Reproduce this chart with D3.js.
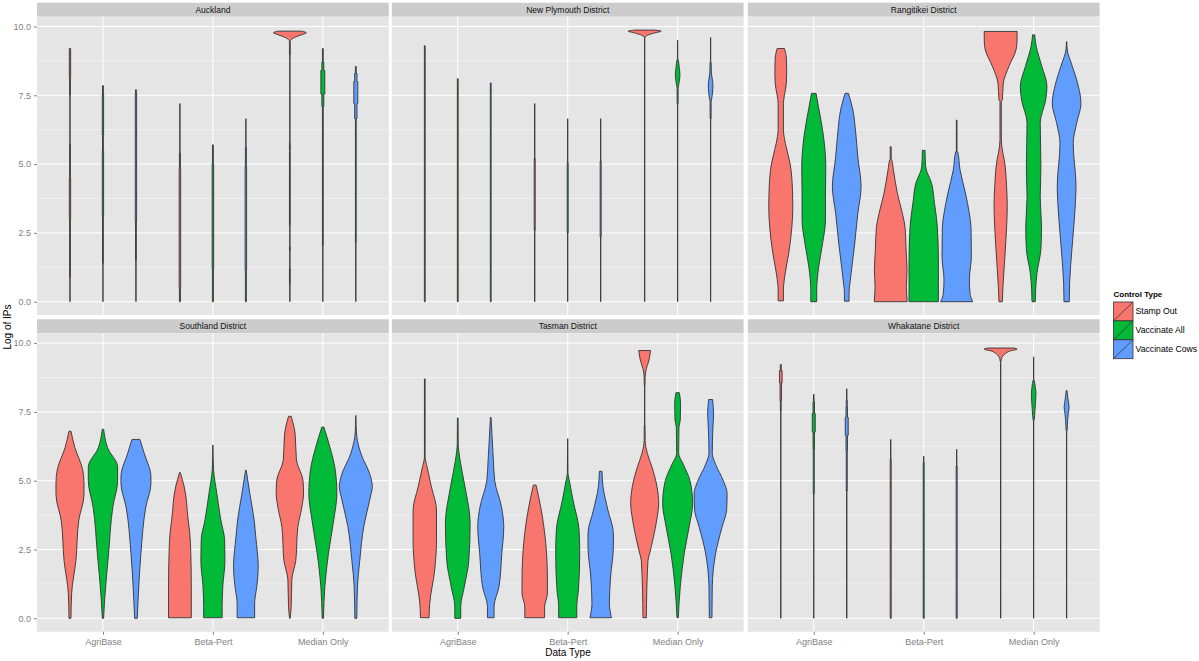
<!DOCTYPE html>
<html>
<head>
<meta charset="utf-8">
<script src="https://cdn.jsdelivr.net/npm/d3@7"></script>
<style>
  html, body { margin: 0; padding: 0; background: #fff; }
  svg { display: block; }
  text { font-family: "Liberation Sans", Arial, sans-serif; }
</style>
</head>
<body>
<svg id="chart" width="1199" height="661"></svg>
<script>
const dataTypes = ['AgriBase', 'Beta-Pert', 'Median Only'];
const controlTypes = ['Stamp Out', 'Vaccinate All', 'Vaccinate Cows'];
const yTicks = [0, 2.5, 5, 7.5, 10];
const yMinorTicks = [1.25, 3.75, 6.25, 8.75];

// each violin: [log of IPs, relative density], top to bottom
// order inside a district: data type, then control type
const auckland = [
  [[9.2,.04],[8.15,.04],[8.15,.025],[7.5,.025],[7.5,0],[5.7,0],[5.7,.025],[4.5,.025],[4.5,.04],[3,.04],[3,.025],[.9,.025],[.9,0],[0,0]],
  [[7.85,.025],[7.55,.025],[7.55,.04],[6.05,.04],[6.05,.025],[5.5,.025],[5.5,.04],[3.1,.04],[3.1,.025],[1.4,.025],[1.4,0],[0,0]],
  [[7.7,.025],[7.55,.025],[7.55,.04],[2.9,.04],[2.9,.025],[1.5,.025],[1.5,0],[0,0]],
  [[7.2,0],[5.4,0],[5.4,.03],[4.85,.03],[4.85,.045],[.5,.045],[.5,.03],[0,.03]],
  [[5.7,.025],[5,.025],[5,.045],[1.2,.045],[1.2,.03],[0,.03]],
  [[6.65,0],[5.6,0],[5.6,.03],[4.9,.03],[4.9,.045],[1.15,.045],[1.15,.03],[0,.03]],
  [[9.83,.72],[9.77,1],[9.72,.8],[9.6,.28],[9.5,.05],[9.45,.025],[9,.025],[9,0],[5.75,0],[5.75,.025],[5.5,.025],[5.5,0],[5.45,0],[5.45,.025],[4.8,.025],[4.8,0],[4.75,0],[4.75,.025],[2.8,.025],[2.8,0],[2,0],[2,.025],[1.85,.025],[1.85,0],[1.2,0],[1.2,.025],[.65,.025],[.65,0],[0,0]],
  [[9.2,.025],[8.7,.025],[8.7,.06],[8.4,.06],[8.4,.12],[7.55,.12],[7.55,.06],[7.1,.06],[7.1,.025],[2.05,.025],[2.05,0],[0,0]],
  [[8.55,.025],[8.3,.025],[8.3,.07],[8,.07],[8,.12],[7.2,.12],[7.2,.07],[6.65,.07],[6.65,.025],[2.15,.025],[2.15,0],[0,0]]
];
const newPlymouth = [
  [[9.3,.025],[0,.025]],
  [[8.1,.025],[0,.025]],
  [[7.95,.025],[0,.025]],
  [[7.2,0],[5.2,0],[5.2,.03],[2.6,.03],[2.6,0],[0,0]],
  [[6.65,0],[5.05,0],[5.05,.03],[2.5,.03],[2.5,0],[0,0]],
  [[6.65,0],[5.1,0],[5.1,.03],[2.35,.03],[2.35,0],[0,0]],
  [[9.87,.6],[9.83,1],[9.78,.7],[9.7,.25],[9.62,.03],[9.55,0],[0,0]],
  [[9.5,0],[8.85,0],[8.8,.03],[8.5,.1],[8.25,.14],[8,.1],[7.8,.04],[7.75,.03],[7.2,.03],[7.2,0],[0,0]],
  [[9.6,0],[8.75,0],[8.7,.03],[8.3,.05],[8.1,.1],[7.9,.14],[7.5,.1],[7.3,.04],[7.25,.03],[6.65,.03],[6.65,0],[0,0]]
];
const rangitikei = [
  [[9.2,.22],[8.85,.34],[8.36,.36],[7.94,.34],[7.5,.22],[7.2,.16],[6.25,.16],[5.75,.28],[5,.57],[4.05,.71],[3.45,.73],[2.7,.67],[1.75,.48],[1,.26],[.42,.16],[.03,.16]],
  [[7.57,.14],[7.1,.28],[6.1,.57],[4.9,.73],[3.95,.71],[2.97,.71],[2.1,.53],[1.27,.3],[.42,.18],[0,.18]],
  [[7.57,.1],[7,.36],[6.1,.55],[5.27,.67],[4.18,.87],[3.2,.67],[2.1,.48],[.9,.24],[.3,.14],[.02,.14]],
  [[5.63,.03],[5.15,.03],[5.15,.06],[4.8,.16],[3.95,.4],[3.2,.71],[2.7,.87],[1.9,.93],[1.15,.99],[.55,.95],[0,1]],
  [[5.5,.08],[4.9,.12],[4.3,.48],[3.6,.65],[2.7,.83],[1.5,.89],[0,.89]],
  [[6.6,.02],[5.45,.02],[5.45,.06],[4.8,.2],[3.95,.53],[3.2,.77],[2.7,.87],[1.65,.89],[.8,.77],[.3,.81],[0,.97]],
  [[9.82,1],[9.4,.99],[9.15,.93],[8.55,.5],[7.94,.16],[7.33,.1],[7.27,.04],[5.88,.04],[4.9,.28],[4.18,.36],[3.45,.4],[2.7,.36],[1.5,.24],[.55,.14],[0,.1]],
  [[9.7,.06],[9.27,.16],[8.55,.5],[7.82,.81],[7.33,.73],[6.5,.4],[4.9,.44],[3.8,.4],[2.7,.48],[1.9,.44],[1.03,.2],[.42,.12],[0,.1]],
  [[9.45,.01],[9.15,.04],[8.67,.28],[8.06,.61],[7.2,.87],[6.5,.61],[5.75,.4],[4.18,.57],[3.1,.48],[1.9,.32],[.67,.18],[0,.16]]
];
const southland = [
  [[6.8,.06],[6.2,.3],[5.4,.77],[4.9,.85],[4.5,.85],[3.55,.53],[2.1,.36],[.9,.1],[0,.06]],
  [[6.87,.04],[6.2,.28],[5.5,.89],[5,.89],[4.05,.6],[2.35,.34],[.66,.1],[0,.04]],
  [[6.5,.24],[6,.5],[5.14,.91],[4.9,.91],[4.05,.6],[2.35,.3],[.8,.14],[0,.08]],
  [[5.3,.02],[4.78,.26],[3.57,.5],[3.08,.6],[2.35,.66],[1.15,.69],[.02,.69]],
  [[6.3,0],[5.75,.02],[5.4,.04],[4.53,.24],[3.57,.48],[2.85,.71],[2.1,.73],[1.15,.6],[.4,.56],[.02,.56]],
  [[5.38,.02],[4.53,.24],[3.57,.5],[2.96,.6],[1.87,.75],[1.15,.66],[.55,.53],[.02,.53]],
  [[7.34,.08],[6.7,.32],[5.75,.4],[5,.8],[4.53,.83],[4.05,.73],[3.3,.48],[2.1,.36],[1.4,.12],[.42,.08],[0,.02]],
  [[6.95,.06],[6.2,.44],[5.4,.75],[4.53,.85],[3.57,.66],[2.35,.34],[1.15,.12],[0,.04]],
  [[7.37,0],[7,.02],[6.6,.06],[6,.3],[5.14,.9],[4.78,1],[4.4,.88],[3.33,.48],[2.1,.24],[1.15,.1],[0,.06]]
];
const tasman = [
  [[8.7,.02],[5.86,.02],[5.5,.14],[4.78,.4],[3.93,.71],[2.84,.71],[1.75,.6],[.54,.3],[.02,.26]],
  [[7.28,.02],[6.35,.03],[5.74,.14],[4.78,.44],[3.45,.75],[2.1,.67],[1.15,.4],[.42,.18],[0,.18]],
  [[7.3,.02],[6.6,.08],[5.74,.16],[5,.24],[4.05,.65],[3.33,.79],[2.35,.67],[1.15,.5],[.42,.2],[.02,.2]],
  [[4.84,.08],[4.05,.36],[2.72,.67],[1.39,.77],[.9,.77],[.42,.6],[.02,.6]],
  [[6.53,0],[5.26,.02],[5,.1],[4.3,.32],[3.2,.69],[2.35,.73],[1.03,.65],[.42,.55],[.02,.55]],
  [[5.34,.08],[4.78,.14],[3.93,.44],[3.08,.77],[2.6,.77],[1.5,.6],[.54,.53],[.02,.65]],
  [[9.73,.36],[9.43,.28],[8.95,.06],[8.76,.03],[8.46,.02],[8.46,0],[7,0],[7,.025],[6.47,.03],[6,.16],[5.5,.44],[4.78,.75],[4.17,.85],[3.57,.73],[2.35,.3],[2.1,.2],[.02,.1]],
  [[8.2,.1],[7.8,.18],[7.2,.16],[6.95,.08],[6,.06],[5.6,.34],[5,.75],[4.17,.91],[3.33,.7],[2.35,.4],[1.15,.16],[.02,.04]],
  [[7.95,.12],[7.43,.18],[6.95,.14],[6,.1],[5.6,.3],[5,.77],[4.53,1],[3.93,.97],[3.33,.7],[2.35,.3],[1.15,.1],[.02,.08]]
];
const whakatane = [
  [[9.22,.03],[9,.03],[9,.08],[8.56,.08],[8.56,.045],[7.9,.045],[7.9,.025],[7.55,.025],[7.55,0],[0,0]],
  [[8.14,.01],[7.86,.025],[7.86,.045],[7.44,.045],[7.44,.09],[6.77,.09],[6.77,.045],[6.13,.045],[6.13,.03],[4.53,.03],[4.53,0],[0,0]],
  [[8.34,0],[7.92,0],[7.92,.03],[7.68,.03],[7.68,.045],[7.3,.045],[7.3,.09],[6.65,.09],[6.65,.045],[6.07,.045],[6.07,.03],[4.63,.03],[4.63,0],[0,0]],
  [[6.5,0],[5.77,0],[5.77,.03],[0,.03]],
  [[5.9,0],[5.66,0],[5.66,.03],[0,.03]],
  [[6.14,0],[5.53,0],[5.53,.03],[0,.03]],
  [[9.82,.8],[9.78,1],[9.72,.6],[9.6,.25],[9.45,.06],[9.35,.03],[9.3,0],[0,0]],
  [[9.5,0],[8.7,0],[8.65,.03],[8.4,.1],[8.16,.14],[7.9,.12],[7.55,.08],[7.2,.03],[7.15,0],[0,0]],
  [[8.28,.02],[7.9,.1],[7.68,.15],[7.44,.1],[7.2,.06],[6.83,.03],[6.75,0],[0,0]]
];

const districts = ['Auckland', 'New Plymouth District', 'Rangitikei District', 'Southland District', 'Tasman District', 'Whakatane District'];
const districtViolins = [auckland, newPlymouth, rangitikei, southland, tasman, whakatane];

const colors = d3.scaleOrdinal().domain(controlTypes).range(['#F8766D', '#00BA38', '#619CFF']);

const svg = d3.select('#chart');

// facet layout
const panelLefts = [37, 391.8, 747.8];
const panelWidth = 351.8;
const panelTops = [16.7, 333.3];
const panelHeight = 298.4;
const stripHeight = 14;

const x = d3.scalePoint().domain(dataTypes).range([0, panelWidth]).padding(0.6);
const dodge = d3.scaleBand().domain(controlTypes).range([-x.step() * 0.45, x.step() * 0.45]);
const y = d3.scaleLinear().domain([0, 10]).range([panelHeight - 13.4, 9.8]);
const density = d3.scaleLinear().domain([0, 1]).range([0, dodge.bandwidth() / 2]);

const violinArea = d3.area()
  .curve(d3.curveMonotoneY)
  .y(d => y(d[0]))
  .x0(d => -density(d[1]))
  .x1(d => density(d[1]));

districts.forEach((name, i) => {
  const col = i % 3;
  const row = Math.floor(i / 3);
  const g = svg.append('g')
    .attr('transform', `translate(${panelLefts[col]},${panelTops[row]})`);

  // strip
  g.append('rect')
    .attr('y', -stripHeight)
    .attr('width', panelWidth)
    .attr('height', stripHeight)
    .attr('fill', '#CCCCCC');
  g.append('text')
    .attr('x', panelWidth / 2)
    .attr('y', -4)
    .attr('text-anchor', 'middle')
    .attr('font-size', 8.5)
    .attr('fill', '#111')
    .text(name);

  // panel background and grid
  g.append('rect')
    .attr('width', panelWidth)
    .attr('height', panelHeight)
    .attr('fill', '#E5E5E5');
  g.selectAll('line.minor')
    .data(yMinorTicks)
    .enter().append('line')
    .attr('class', 'minor')
    .attr('x2', panelWidth)
    .attr('y1', d => y(d))
    .attr('y2', d => y(d))
    .attr('stroke', '#F2F2F2')
    .attr('stroke-width', 0.8);
  g.selectAll('line.major')
    .data(yTicks)
    .enter().append('line')
    .attr('class', 'major')
    .attr('x2', panelWidth)
    .attr('y1', d => y(d))
    .attr('y2', d => y(d))
    .attr('stroke', '#fff')
    .attr('stroke-width', 1);
  g.selectAll('line.vert')
    .data(dataTypes)
    .enter().append('line')
    .attr('class', 'vert')
    .attr('x1', d => x(d))
    .attr('x2', d => x(d))
    .attr('y2', panelHeight)
    .attr('stroke', '#fff')
    .attr('stroke-width', 1);

  // violins
  districtViolins[i].forEach((profile, k) => {
    const dataType = dataTypes[Math.floor(k / 3)];
    const control = controlTypes[k % 3];
    const cx = x(dataType) + dodge(control) + dodge.bandwidth() / 2;
    g.append('path')
      .datum(profile)
      .attr('transform', `translate(${cx},0)`)
      .attr('d', violinArea)
      .attr('fill', colors(control))
      .attr('stroke', '#333')
      .attr('stroke-width', 0.9);
  });

  // axes
  if (col === 0) {
    const yAxis = g.append('g')
      .call(d3.axisLeft(y).tickValues(yTicks).tickFormat(d3.format('.1f')).tickSize(3).tickPadding(3));
    yAxis.select('.domain').remove();
    yAxis.selectAll('line').attr('stroke', '#7F7F7F');
    yAxis.selectAll('text').attr('fill', '#7F7F7F').attr('font-size', 9)
      .style('font-family', '"Liberation Sans", Arial, sans-serif');
  }
  if (row === 1) {
    const xAxis = g.append('g')
      .attr('transform', `translate(0,${panelHeight})`)
      .call(d3.axisBottom(x).tickSize(3).tickPadding(4));
    xAxis.select('.domain').remove();
    xAxis.selectAll('line').attr('stroke', '#7F7F7F');
    xAxis.selectAll('text').attr('fill', '#7F7F7F').attr('font-size', 9)
      .style('font-family', '"Liberation Sans", Arial, sans-serif');
  }
});

// axis titles
svg.append('text')
  .attr('x', 568)
  .attr('y', 656)
  .attr('text-anchor', 'middle')
  .attr('font-size', 10)
  .attr('fill', '#000')
  .text('Data Type');
svg.append('text')
  .attr('transform', 'translate(11,327) rotate(-90)')
  .attr('text-anchor', 'middle')
  .attr('font-size', 10)
  .attr('fill', '#000')
  .text('Log of IPs');

// legend
const legend = svg.append('g').attr('transform', 'translate(1113.5,302)');
const keySize = 18.9;
legend.append('text')
  .attr('y', -5)
  .attr('font-size', 8)
  .attr('font-weight', 'bold')
  .attr('fill', '#000')
  .text('Control Type');
controlTypes.forEach((control, i) => {
  const key = legend.append('g').attr('transform', `translate(0,${i * keySize})`);
  key.append('rect')
    .attr('width', 19.5)
    .attr('height', keySize)
    .attr('fill', colors(control))
    .attr('stroke', '#333')
    .attr('stroke-width', 0.8);
  key.append('line')
    .attr('y1', keySize)
    .attr('x2', 19.5)
    .attr('stroke', '#333')
    .attr('stroke-width', 0.8);
  key.append('text')
    .attr('x', 22)
    .attr('y', keySize / 2 + 3)
    .attr('font-size', 8.7)
    .attr('fill', '#000')
    .text(control);
});
</script>
</body>
</html>
